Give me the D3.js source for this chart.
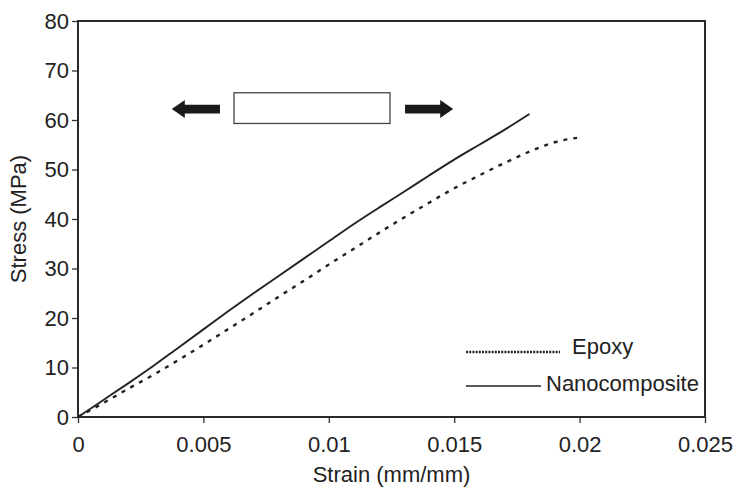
<!DOCTYPE html>
<html>
<head>
    <meta charset="utf-8" />
    <script src="https://d3js.org/d3.v7.min.js"></script>
    <style>
        body { margin: 0; background: #fff; }
        svg text { font-family: "Liberation Sans", Arial, sans-serif; fill: #222; }
    </style>
</head>
<body>
    <svg width="736" height="487"></svg>
    <script>
        // data
        var xTicks = [0, 0.005, 0.01, 0.015, 0.02, 0.025];
        var yTicks = [0, 10, 20, 30, 40, 50, 60, 70, 80];

        var nanoStrain = [0, 0.001, 0.002, 0.003, 0.004, 0.005, 0.006, 0.007, 0.008, 0.009, 0.010,
            0.011, 0.012, 0.013, 0.014, 0.015, 0.016, 0.017, 0.018];
        var nanoStress = [0, 3.4, 6.8, 10.3, 14, 17.7, 21.4, 25, 28.5, 32, 35.5,
            39, 42.3, 45.5, 48.8, 52, 55, 58, 61.2];

        var epoxyStrain = [0, 0.001, 0.002, 0.003, 0.004, 0.005, 0.006, 0.007, 0.008, 0.009, 0.010,
            0.011, 0.012, 0.013, 0.014, 0.015, 0.016, 0.017, 0.018, 0.019, 0.0199];
        var epoxyStress = [0, 2.8, 5.7, 8.5, 11.5, 14.6, 17.8, 21, 24.3, 27.5, 30.8,
            34, 37.2, 40.3, 43.3, 46.2, 48.8, 51.3, 53.6, 55.5, 56.4];

        var seriesNames = ["Epoxy", "Nanocomposite"];

        var svg = d3.select("svg"),
            margin = { top: 21, right: 31, bottom: 70, left: 78 },
            width = +svg.attr("width") - margin.left - margin.right,
            height = +svg.attr("height") - margin.top - margin.bottom,
            g = svg.append("g").attr("transform", "translate(" + margin.left + "," + margin.top + ")");

        var fontSize = "22px";

        var x = d3.scaleLinear().domain([0, 0.025]).range([0, width]);
        var y = d3.scaleLinear().domain([0, 80]).range([height, 0]);

        // axes
        var xAxis = g.append("g")
            .attr("transform", "translate(0," + height + ")")
            .call(d3.axisBottom(x).tickValues(xTicks).tickSize(6).tickPadding(13)
                .tickFormat(function (d) { return d === 0 ? "0" : String(+d.toFixed(3)); }));
        var yAxis = g.append("g")
            .call(d3.axisLeft(y).tickValues(yTicks).tickSize(6).tickPadding(3));

        [xAxis, yAxis].forEach(function (a) {
            a.select(".domain").remove();
            a.selectAll("line").attr("stroke", "#333").attr("stroke-width", 1.3);
            a.selectAll("text").style("font-size", fontSize).attr("fill", "#222");
        });

        // frame
        g.append("rect")
            .attr("x", 0).attr("y", 0)
            .attr("width", width).attr("height", height)
            .attr("fill", "none")
            .attr("stroke", "#2a2a2a")
            .attr("stroke-width", 2);

        // curves
        var line = d3.line()
            .x(function (d) { return x(d[0]); })
            .y(function (d) { return y(d[1]); })
            .curve(d3.curveMonotoneX);

        var epoxy = epoxyStrain.map(function (s, i) { return [s, epoxyStress[i]]; });
        var nano = nanoStrain.map(function (s, i) { return [s, nanoStress[i]]; });

        g.append("path")
            .datum(epoxy)
            .attr("d", line)
            .attr("fill", "none")
            .attr("stroke", "#222")
            .attr("stroke-width", 2.4)
            .attr("stroke-dasharray", "4,6");

        g.append("path")
            .datum(nano)
            .attr("d", line)
            .attr("fill", "none")
            .attr("stroke", "#222")
            .attr("stroke-width", 1.9);

        // specimen sketch: box and two arrows
        var boxX = [0.00622, 0.01244], boxY = [59.3, 65.5];
        g.append("rect")
            .attr("x", x(boxX[0])).attr("y", y(boxY[1]))
            .attr("width", x(boxX[1]) - x(boxX[0]))
            .attr("height", y(boxY[0]) - y(boxY[1]))
            .attr("fill", "#fff")
            .attr("stroke", "#444")
            .attr("stroke-width", 1.3);

        var arrows = [[0.00566, 0.00374], [0.01304, 0.01496]];
        var arrowY = 62.2;
        arrows.forEach(function (a) {
            var x0 = x(a[0]), x1 = x(a[1]), cy = y(arrowY);
            var dir = x1 > x0 ? 1 : -1;
            var head = 13, shaft = 4.4, hh = 9;
            var xb = x1 - dir * head;
            var pts = [[x0, cy - shaft], [xb, cy - shaft], [xb, cy - hh], [x1, cy],
                [xb, cy + hh], [xb, cy + shaft], [x0, cy + shaft]];
            g.append("path")
                .attr("d", "M" + pts.map(function (p) { return p.join(","); }).join("L") + "Z")
                .attr("fill", "#1a1a1a");
        });

        // legend
        var legend = svg.append("g").attr("transform", "translate(466,352)");
        legend.append("line")
            .attr("x1", 0).attr("x2", 94).attr("y1", 0).attr("y2", 0)
            .attr("stroke", "#222").attr("stroke-width", 2.6)
            .attr("stroke-dasharray", "2,1.2");
        legend.append("text")
            .attr("x", 106).attr("y", -6).attr("dy", "0.35em")
            .style("font-size", fontSize)
            .text(seriesNames[0]);
        legend.append("line")
            .attr("x1", 0).attr("x2", 75).attr("y1", 34).attr("y2", 34)
            .attr("stroke", "#222").attr("stroke-width", 1.5);
        legend.append("text")
            .attr("x", 80).attr("y", 31).attr("dy", "0.35em")
            .style("font-size", fontSize)
            .text(seriesNames[1]);

        // axis titles
        svg.append("text")
            .attr("x", margin.left + width / 2)
            .attr("y", 482)
            .attr("text-anchor", "middle")
            .style("font-size", fontSize)
            .text("Strain (mm/mm)");

        svg.append("text")
            .attr("transform", "translate(26," + (margin.top + height / 2) + ") rotate(-90)")
            .attr("text-anchor", "middle")
            .style("font-size", fontSize)
            .text("Stress (MPa)");
    </script>
</body>
</html>
